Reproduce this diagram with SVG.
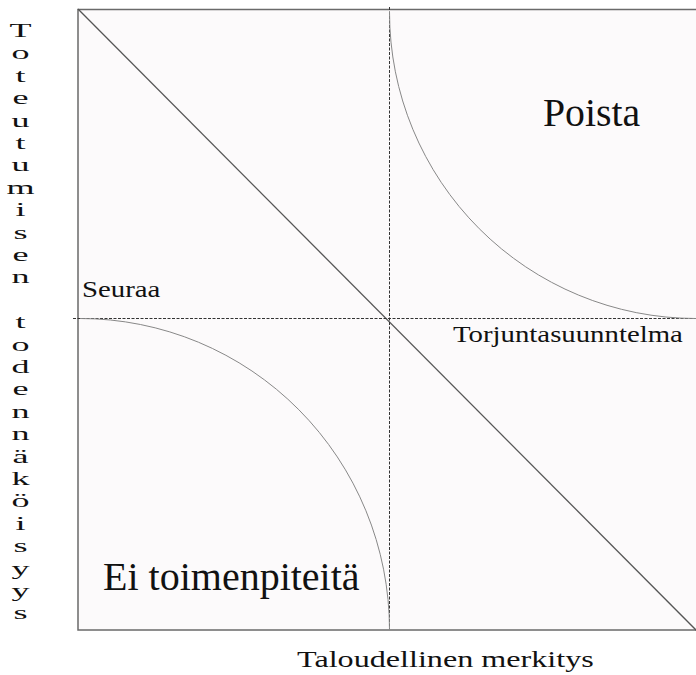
<svg xmlns="http://www.w3.org/2000/svg" width="696" height="675" viewBox="0 0 696 675">
<style>
.t{font-family:"Liberation Serif","Times New Roman",serif;fill:#111}
.dash{stroke:#333;stroke-width:1;stroke-dasharray:3 1.5;fill:none}
.arc{stroke:#888;stroke-width:1;fill:none}
</style>
<rect width="696" height="675" fill="#ffffff"/>
<g id="frame">
<rect x="78" y="9.5" width="630" height="620.5" fill="#fcfafb" stroke="#6a6a6a" stroke-width="1.5"/>
</g>
<g id="connectors">
<line x1="78" y1="9" x2="697" y2="631" stroke="#555" stroke-width="1.3"/>
<line class="dash" x1="389.5" y1="7" x2="389.5" y2="630"/>
<line class="dash" x1="73" y1="318.5" x2="696" y2="318.5"/>
<path class="arc" d="M389.5,12 A306.5,306.5 0 0 0 696,318.5"/>
<path class="arc" d="M80,318.5 A309.5,311.5 0 0 1 389.5,630"/>
</g>
<g id="poista" transform="translate(543,126) scale(0.97,1)"><text class="t" x="0" y="0" font-size="41">Poista</text></g>
<g id="seuraa" transform="translate(82,297) scale(1.2,1)"><text class="t" x="0" y="0" font-size="24">Seuraa</text></g>
<g id="torjunta" transform="translate(453,342) scale(1.2,1)"><text class="t" x="0" y="0" font-size="24">Torjuntasuunntelma</text></g>
<g id="ei" transform="translate(103,590)"><text class="t" x="0" y="0" font-size="40">Ei toimenpiteitä</text></g>
<g id="xaxis" transform="translate(297,667) scale(1.34,1)"><text class="t" x="0" y="0" font-size="24">Taloudellinen merkitys</text></g>
<g id="yaxis" transform="translate(20.5,0) scale(1.9,1)">
<text class="t" font-size="19" text-anchor="middle">
<tspan x="0" y="37">T</tspan><tspan x="0" y="59.4">o</tspan><tspan x="0" y="81.8">t</tspan><tspan x="0" y="104.2">e</tspan><tspan x="0" y="126.6">u</tspan><tspan x="0" y="149">t</tspan><tspan x="0" y="171.4">u</tspan><tspan x="0" y="193.8">m</tspan><tspan x="0" y="216.2">i</tspan><tspan x="0" y="238.6">s</tspan><tspan x="0" y="261">e</tspan><tspan x="0" y="283.4">n</tspan><tspan x="0" y="328.2">t</tspan><tspan x="0" y="350.6">o</tspan><tspan x="0" y="373">d</tspan><tspan x="0" y="395.4">e</tspan><tspan x="0" y="417.8">n</tspan><tspan x="0" y="440.2">n</tspan><tspan x="0" y="462.6">ä</tspan><tspan x="0" y="485">k</tspan><tspan x="0" y="507.4">ö</tspan><tspan x="0" y="529.8">i</tspan><tspan x="0" y="552.2">s</tspan><tspan x="0" y="574.6">y</tspan><tspan x="0" y="597">y</tspan><tspan x="0" y="619.4">s</tspan>
</text>
</g>
</svg>
